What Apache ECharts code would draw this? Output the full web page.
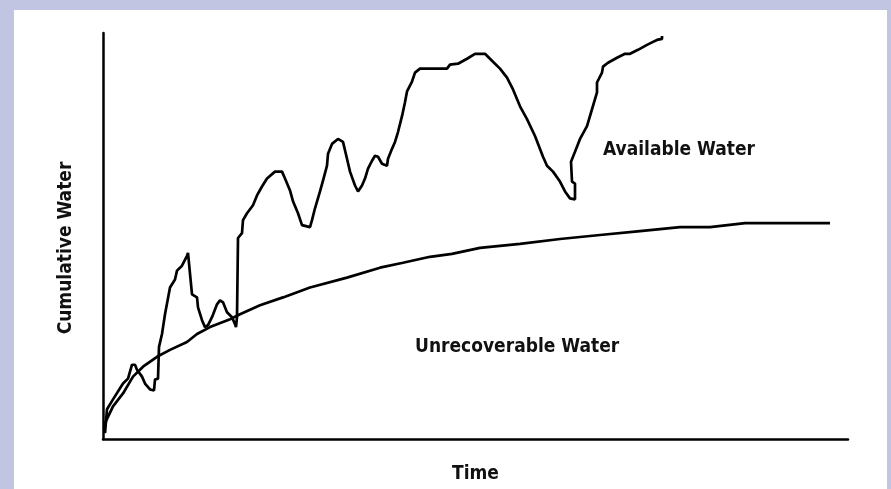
<!DOCTYPE html>
<html>
<head>
<meta charset="utf-8">
<script src="https://cdn.jsdelivr.net/npm/echarts@6/dist/echarts.min.js"></script>
<style>
  html, body { margin: 0; padding: 0; width: 891px; height: 489px; background: #c2c5e1; overflow: hidden; }
  #main { position: absolute; left: 14px; top: 10px; width: 873px; height: 479px; background: #fff; }
</style>
</head>
<body>
<div id="main"></div>
<script>
// time / cumulative water, arbitrary units
const availTime = [0.4, 0.8, 2, 4, 5, 5.8, 6.4, 6.8, 7.8, 8.4, 9.4, 10.2, 10.4, 11, 11.2, 11.8, 12.4, 13.4, 14.4, 14.8,
  15.8, 16.8, 17, 17.4, 17.8, 18.8, 19, 19.8, 20.4, 21, 21.8, 22.8, 23.4, 24, 24.8, 25.8, 26.4, 26.6, 26.8, 27,
  27.8, 28, 28.8, 30, 30.8, 31.8, 32.8, 34.4, 35.8, 36.4, 37.4, 38, 39, 39.8, 41.4, 41.8, 42.4, 43.4, 44, 44.8,
  45, 45.8, 47, 48, 48.8, 49.4, 50.4, 51, 51.8, 52.4, 53, 53.8, 54.4, 55, 55.8, 56.8, 57, 57.8, 58.4, 59,
  59.8, 60.4, 60.8, 61.8, 62.4, 63.4, 68.8, 69.4, 71, 72.8, 74.4, 76.4, 78, 79.4, 80.8, 82, 83.4, 84.8, 86.4, 88,
  88.8, 90, 91.4, 92.4, 93.4, 94.4, 94.4, 93.8, 93.6, 94.4, 95.4, 96.8, 97.8, 98.8, 98.8, 99.8, 100, 101, 102.8, 104.4,
  105.4, 107, 108.8, 110, 110.8, 111.8, 111.8];
const availWater = [1.2, 6, 8, 11.2, 12.2, 15, 15, 14, 12.6, 11.2, 10, 9.8, 12, 12.2, 18.6, 21.2, 25.2, 30.6, 32.2, 34,
  35, 37, 37.6, 37.2, 29.2, 28.6, 26.6, 24, 22.6, 23, 24.6, 27.2, 28, 27.6, 25.6, 24.6, 23.2, 22.6, 24.6, 40.6,
  41.6, 44.2, 45.6, 47.2, 49.2, 51, 52.6, 54, 54, 52.6, 50.2, 48, 45.6, 43.2, 42.8, 44.2, 46.6, 50, 52.2, 55.2,
  57.6, 59.6, 60.6, 60, 56.6, 54, 51.2, 50, 51.2, 52.6, 54.6, 56.2, 57.2, 57, 55.6, 55.2, 56.6, 58.6, 60, 62,
  65.2, 68, 70.2, 72.2, 74, 74.8, 74.8, 75.6, 75.8, 76.8, 77.8, 77.8, 76.2, 74.8, 73, 70.6, 67.2, 64.6, 61.2, 57,
  55.2, 54, 52, 50, 48.6, 48.4, 51.6, 52, 56, 58, 60.6, 63.2, 66.6, 70, 72, 74, 75.2, 76, 77, 77.8,
  77.8, 78.6, 79.6, 80.2, 80.6, 80.8, 81.4];

const unrecTime = [0.2, 0.4, 2, 4, 6, 8, 10.8, 13.4, 16.8, 18.8, 21.4, 25.4, 27.4, 31.4, 36, 41.4, 48.8, 55.4, 60, 65.4,
  69.8, 75.4, 83.4, 91.4, 99.4, 107.4, 115.4, 121.4, 128.4, 145.4];
const unrecWater = [2, 3.2, 6.6, 9.2, 12.6, 14.6, 16.6, 18, 19.6, 21.2, 22.6, 24.2, 25.2, 27, 28.6, 30.6, 32.6, 34.6, 35.6, 36.8,
  37.4, 38.6, 39.4, 40.4, 41.2, 42, 42.8, 42.8, 43.6, 43.6];

const labelFont = {
  fontFamily: 'DejaVu Sans Condensed',
  fontWeight: 'bold',
  fontSize: 19,
  color: '#111'
};

let myChart = echarts.init(document.getElementById('main'));

const option = {
  backgroundColor: '#fff',
  animation: false,
  grid: {
    left: 89,
    top: 23,
    right: 39,
    bottom: 46
  },
  xAxis: {
    type: 'value',
    min: 0,
    max: 149,
    name: 'Time',
    nameLocation: 'middle',
    nameGap: 26,
    nameTextStyle: labelFont,
    axisLine: { show: true, onZero: false, lineStyle: { color: '#000', width: 2.5 } },
    axisTick: { show: false },
    axisLabel: { show: false },
    splitLine: { show: false }
  },
  yAxis: {
    type: 'value',
    min: 0,
    max: 82,
    name: 'Cumulative Water',
    nameLocation: 'middle',
    nameGap: 27,
    nameTextStyle: Object.assign({}, labelFont, { padding: [0, 24, 0, 0] }),
    axisLine: { show: true, onZero: false, lineStyle: { color: '#000', width: 2.5 } },
    axisTick: { show: false },
    axisLabel: { show: false },
    splitLine: { show: false }
  },
  graphic: [{
    type: 'text',
    left: 589,
    top: 131,
    style: { text: 'Available Water', font: 'bold 19px "DejaVu Sans Condensed"', fill: '#111' }
  }, {
    type: 'text',
    left: 401,
    top: 328,
    style: { text: 'Unrecoverable Water', font: 'bold 19px "DejaVu Sans Condensed"', fill: '#111' }
  }],
  series: [{
    name: 'Available Water',
    type: 'line',
    showSymbol: false,
    data: availTime.map((t, i) => [t, availWater[i]]),
    lineStyle: { color: '#000', width: 2.7 }
  }, {
    name: 'Unrecoverable Water',
    type: 'line',
    showSymbol: false,
    data: unrecTime.map((t, i) => [t, unrecWater[i]]),
    lineStyle: { color: '#000', width: 2.7 }
  }]
};

myChart.setOption(option);
</script>
</body>
</html>
